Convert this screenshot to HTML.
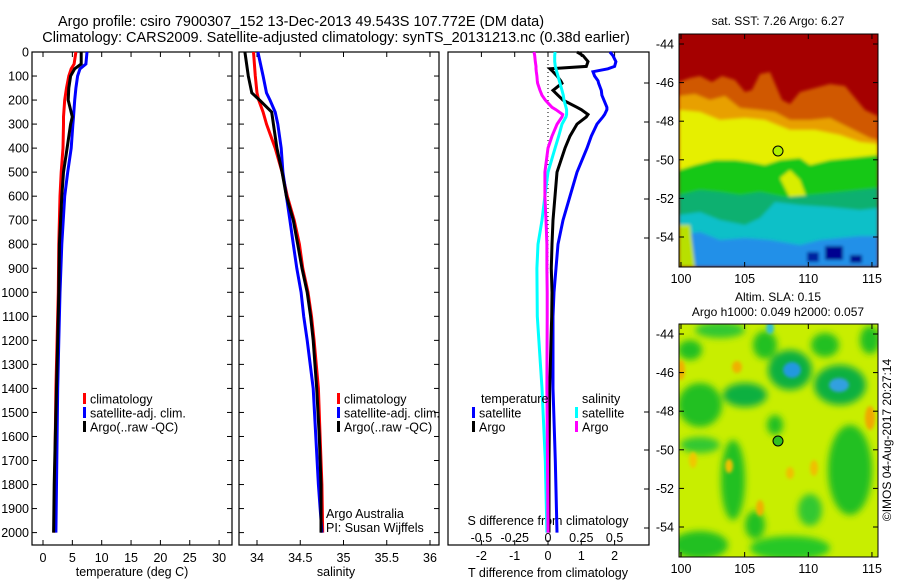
<!DOCTYPE html>
<html><head><meta charset="utf-8"><style>
html,body{margin:0;padding:0;background:#fff;}
svg{display:block;font-family:"Liberation Sans",sans-serif;}
text{fill:#000;}
</style></head><body>
<svg id="fig" width="900" height="580" viewBox="0 0 900 580" xmlns="http://www.w3.org/2000/svg">
<defs>
<clipPath id="cm1"><rect x="679" y="34" width="199" height="233"/></clipPath>
<clipPath id="cm2"><rect x="679" y="324" width="199" height="233"/></clipPath>
<filter id="bl" x="-30%" y="-30%" width="160%" height="160%"><feGaussianBlur stdDeviation="3.5"/></filter>
<filter id="bl2" x="-20%" y="-20%" width="140%" height="140%"><feGaussianBlur stdDeviation="1.5"/></filter>
</defs>
<text x="301" y="26" font-size="14.5" text-anchor="middle">Argo profile: csiro 7900307_152 13-Dec-2013 49.543S 107.772E (DM data)</text>
<text x="336" y="42" font-size="14.5" text-anchor="middle">Climatology: CARS2009. Satellite-adjusted climatology: synTS_20131213.nc (0.38d earlier)</text>

<g id="p1"></g>
<g id="p2"></g>
<g id="p3"></g>

<!-- SST map -->
<g clip-path="url(#cm1)">
<rect x="679" y="34" width="199" height="233" fill="#a50000"/>
<g filter="url(#bl2)">
<path d="M679 82 L690 78 L700 76 L712 82 L722 76 L735 80 L745 92 L752 90 L760 74 L770 72 L782 100 L790 104 L800 92 L815 88 L830 84 L845 86 L855 98 L865 110 L878 116 L878 267 L679 267Z" fill="#d05800"/>
<path d="M679 96 L695 94 L710 100 L725 96 L740 108 L760 110 L775 112 L790 120 L810 120 L830 118 L850 128 L870 138 L878 140 L878 267 L679 267Z" fill="#e8a000"/>
<path d="M679 110 L700 112 L720 120 L745 118 L765 120 L790 130 L815 130 L840 135 L860 142 L878 144 L878 267 L679 267Z" fill="#e6ef00"/>
<path d="M679 170 L695 165 L715 160 L735 160 L750 162 L765 165 L780 160 L800 158 L810 165 L830 160 L850 158 L878 155 L878 267 L679 267Z" fill="#18c818"/>
<path d="M780 178 L790 170 L800 180 L806 196 L790 198 Z" fill="#d8ee00"/>
<path d="M679 195 L700 190 L720 192 L740 195 L760 192 L785 197 L810 195 L840 192 L878 188 L878 267 L679 267Z" fill="#10b070"/>
<path d="M679 215 L700 212 L720 220 L745 225 L760 218 L775 202 L800 205 L830 207 L860 210 L878 208 L878 267 L679 267Z" fill="#10c0c8"/>
<path d="M679 235 L700 232 L720 240 L745 238 L770 240 L800 245 L820 240 L840 238 L860 236 L878 236 L878 267 L679 267Z" fill="#2090e8"/>
<path d="M679 225 L690 225 L695 267 L679 267Z" fill="#b8e000"/>
<rect x="825" y="246" width="18" height="14" fill="#000090"/>
<rect x="807" y="252" width="12" height="10" fill="#0020a0"/>
<rect x="850" y="255" width="12" height="8" fill="#001090"/>
</g>
</g>
<rect x="679" y="34" width="199" height="233" fill="none" stroke="#000" stroke-width="1"/>
<circle cx="778" cy="151" r="5" fill="#b0f000" stroke="#000" stroke-width="1"/>

<!-- SLA map -->
<g clip-path="url(#cm2)">
<rect x="679" y="324" width="199" height="233" fill="#c8ee00"/>
<g filter="url(#bl)">
<ellipse cx="690" cy="350" rx="12" ry="10" fill="#20c020"/>
<ellipse cx="700" cy="405" rx="22" ry="22" fill="#20c020"/>
<ellipse cx="745" cy="395" rx="22" ry="12" fill="#10b040"/>
<ellipse cx="765" cy="345" rx="12" ry="14" fill="#20c020"/>
<ellipse cx="790" cy="370" rx="22" ry="20" fill="#10b040"/>
<ellipse cx="840" cy="385" rx="26" ry="20" fill="#10b040"/>
<ellipse cx="825" cy="345" rx="14" ry="12" fill="#20c020"/>
<ellipse cx="870" cy="340" rx="10" ry="14" fill="#20c020"/>
<ellipse cx="733" cy="480" rx="12" ry="40" fill="#20c020"/>
<ellipse cx="700" cy="445" rx="20" ry="8" fill="#30c830"/>
<ellipse cx="775" cy="425" rx="8" ry="10" fill="#20c020"/>
<ellipse cx="850" cy="470" rx="22" ry="45" fill="#20c020"/>
<ellipse cx="700" cy="545" rx="28" ry="14" fill="#20c020"/>
<ellipse cx="790" cy="548" rx="40" ry="12" fill="#28c828"/>
<ellipse cx="810" cy="510" rx="12" ry="16" fill="#30c830"/>
<ellipse cx="720" cy="330" rx="25" ry="8" fill="#30c830"/>
<ellipse cx="755" cy="525" rx="10" ry="14" fill="#20c020"/>
</g>
<g filter="url(#bl2)">
<ellipse cx="792" cy="370" rx="9" ry="8" fill="#2098e0"/>
<ellipse cx="839" cy="385" rx="10" ry="7" fill="#30a0e0"/>
<ellipse cx="770" cy="328" rx="4" ry="6" fill="#30c0d0"/>
<ellipse cx="681" cy="370" rx="4" ry="10" fill="#f0b000"/>
<ellipse cx="737" cy="367" rx="5" ry="6" fill="#f0b000"/>
<ellipse cx="870" cy="418" rx="5" ry="12" fill="#f0a800"/>
<ellipse cx="729" cy="466" rx="4" ry="7" fill="#f0c000"/>
<ellipse cx="790" cy="473" rx="4" ry="6" fill="#f0c000"/>
<ellipse cx="814" cy="468" rx="4" ry="8" fill="#f0c000"/>
<ellipse cx="760" cy="508" rx="4" ry="8" fill="#f0b000"/>
<ellipse cx="693" cy="460" rx="4" ry="8" fill="#f0c800"/>
</g>
</g>
<rect x="679" y="324" width="199" height="233" fill="none" stroke="#000" stroke-width="1"/>
<circle cx="778" cy="441" r="5" fill="#30c020" stroke="#000" stroke-width="1"/>

<text x="778" y="25" font-size="12" text-anchor="middle">sat. SST: 7.26 Argo: 6.27</text>
<text x="778" y="301" font-size="12" text-anchor="middle">Altim. SLA: 0.15</text>
<text x="778" y="316" font-size="12" text-anchor="middle">Argo h1000: 0.049 h2000: 0.057</text>
<text x="0" y="0" font-size="12" text-anchor="middle" transform="translate(891,440) rotate(-90)">©IMOS 04-Aug-2017 20:27:14</text>
<g id="maps"></g>
</svg>
<script>
// ---- data ----
const tDepth = [0,50,70,100,150,200,270,300,400,500,600,800,1000,1200,1400,1600,1800,2000];
const tClim  = [5.6,5.3,4.8,4.4,4.0,3.7,3.5,3.5,3.4,3.1,2.9,2.7,2.6,2.4,2.2,2.1,2.0,1.9];
const tSat   = [7.5,7.3,6.3,5.9,5.6,5.4,5.2,5.1,4.8,4.2,3.7,3.2,2.9,2.7,2.5,2.4,2.3,2.2];
const tArgo  = [6.5,6.5,5.4,4.7,4.4,4.3,5.0,4.7,4.1,3.5,3.2,2.8,2.7,2.5,2.3,2.1,1.9,1.8];
const sDepth = [0,100,170,200,250,300,400,500,600,700,800,900,1000,1100,1200,1400,1600,1800,2000];
const sClim  = [33.96,33.98,34.0,34.02,34.07,34.11,34.21,34.29,34.35,34.43,34.49,34.53,34.59,34.63,34.66,34.71,34.73,34.75,34.76];
const sSat   = [34.01,34.07,34.11,34.15,34.21,34.24,34.28,34.30,34.34,34.38,34.42,34.46,34.51,34.54,34.58,34.65,34.68,34.71,34.75];
const sArgo  = [33.86,33.90,33.94,34.03,34.17,34.19,34.23,34.29,34.34,34.42,34.47,34.52,34.58,34.62,34.65,34.69,34.72,34.74,34.74];
const dDepth = [0,15,40,60,70,82,100,120,130,160,180,200,230,240,260,270,300,350,400,500,600,700,800,900,1000,1100,1400,1700,2000];
const dTsat  = [1.86,1.95,2.04,2.0,1.8,1.35,1.4,1.5,1.52,1.6,1.62,1.68,1.77,1.77,1.7,1.65,1.47,1.3,1.17,0.87,0.66,0.45,0.30,0.24,0.18,0.15,0.15,0.22,0.27];
const dTargo = [0.87,1.05,1.2,1.15,0.06,0.15,0.27,0.38,0.42,0.15,0.3,0.45,0.87,1.0,1.2,1.15,0.87,0.66,0.51,0.27,0.21,0.15,0.12,0.10,0.12,0.11,0.05,0.03,0.03];
const dSsat  = [0.053,0.05,0.05,0.055,0.06,0.065,0.075,0.085,0.09,0.105,0.115,0.12,0.135,0.14,0.14,0.135,0.105,0.08,0.053,0.0,-0.023,-0.045,-0.075,-0.083,-0.082,-0.08,-0.045,-0.02,-0.008];
const dSargo = [-0.105,-0.1,-0.095,-0.09,-0.09,-0.088,-0.083,-0.08,-0.078,-0.06,-0.045,-0.02,0.03,0.06,0.11,0.105,0.068,0.03,0.0,-0.023,-0.023,-0.015,-0.008,-0.008,-0.006,-0.006,-0.008,-0.004,0.0];
const depthTicks = [0,100,200,300,400,500,600,700,800,900,1000,1100,1200,1300,1400,1500,1600,1700,1800,1900,2000];
const tTicks = [0,5,10,15,20,25,30];
const sTicks = [34,34.5,35,35.5,36];
const sTickLabels = ["34","34.5","35","35.5","36"];
const dTTicks = [-2,-1,0,1,2];
const dSTicks = [-0.5,-0.25,0,0.25,0.5];
const dSTickLabels = ["-0.5","-0.25","0","0.25","0.5"];
const latTicks = [-44,-46,-48,-50,-52,-54];
const lonTicks = [100,105,110,115];

// ---- axes ----
const NS='http://www.w3.org/2000/svg';
const Y = d => 52 + d*0.2403;
const X1 = t => 43 + t*5.87;
const X2 = s => 257 + (s-34)*86.5;
const X3 = t => 548 + t*33.3;
const X3s = s => X3(s*4);
const LON = l => 681 + (l-100)*12.73;
const LAT1 = l => 44 + (-44-l)*19.3;
const LAT2 = l => 334 + (-44-l)*19.3;
function el(tag,attrs,parent,txt){const e=document.createElementNS(NS,tag);for(const k in attrs)e.setAttribute(k,attrs[k]);if(txt!==undefined)e.textContent=txt;parent.appendChild(e);return e;}
function stepPts(xs,ds,fx){let p=[];for(let i=0;i<xs.length;i++){const x=fx(xs[i]).toFixed(1),y=Y(ds[i]).toFixed(1);p.push(x+','+y);}return p.join(' ');}

const p1=document.getElementById('p1'),p2=document.getElementById('p2'),p3=document.getElementById('p3');
function frame(g,x0,x1,name){
  const r=el('rect',{x:x0,y:52,width:x1-x0,height:493,fill:'none',stroke:'#000','stroke-width':1.2},g);
  
  
  depthTicks.forEach(d=>{
    el('line',{x1:x0,x2:x0+5,y1:Y(d),y2:Y(d),stroke:'#000'},g);
    el('line',{x1:x1-5,x2:x1,y1:Y(d),y2:Y(d),stroke:'#000'},g);
  });
}
frame(p1,32,232,'temperature-frame');
frame(p2,239,439,'salinity-frame');
const f3=el('rect',{x:448,y:52,width:201,height:493,fill:'none',stroke:'#000','stroke-width':1.2},p3);


depthTicks.forEach(d=>{
  const t=el('text',{x:29,y:Y(d)+4.5,'font-size':12.5,'text-anchor':'end'},p1,String(d));
  
  
});
tTicks.forEach(v=>{
  el('line',{x1:X1(v),x2:X1(v),y1:52,y2:57,stroke:'#000'},p1);
  el('line',{x1:X1(v),x2:X1(v),y1:540,y2:545,stroke:'#000'},p1);
  const t=el('text',{x:X1(v),y:562,'font-size':12.5,'text-anchor':'middle'},p1,String(v));
  
  
});
sTicks.forEach((v,i)=>{
  el('line',{x1:X2(v),x2:X2(v),y1:52,y2:57,stroke:'#000'},p2);
  el('line',{x1:X2(v),x2:X2(v),y1:540,y2:545,stroke:'#000'},p2);
  const t=el('text',{x:X2(v),y:562,'font-size':12.5,'text-anchor':'middle'},p2,sTickLabels[i]);
  
  
});
dTTicks.forEach(v=>{
  el('line',{x1:X3(v),x2:X3(v),y1:52,y2:57,stroke:'#000'},p3);
  el('line',{x1:X3(v),x2:X3(v),y1:540,y2:545,stroke:'#000'},p3);
  const t=el('text',{x:X3(v),y:560,'font-size':12.5,'text-anchor':'middle'},p3,String(v));
  
  
});
dSTicks.forEach((v,i)=>{
  const t=el('text',{x:X3s(v),y:542,'font-size':12.5,'text-anchor':'middle'},p3,dSTickLabels[i]);
  
  
});
[83,122,160,199,238,412,450,489,528].forEach(y=>el('line',{x1:644,x2:649,y1:y,y2:y,stroke:'#000'},p3));
[[p1,132,576,'temperature (deg C)','temperature-axis-title'],[p2,336,576,'salinity','salinity-axis-title'],[p3,548,577,'T difference from climatology','t-diff-axis-title'],[p3,548,525,'S difference from climatology','s-diff-axis-title']].forEach(a=>{
  const t=el('text',{x:a[1],y:a[2],'font-size':12.5,'text-anchor':'middle'},a[0],a[3]);
  
  
});
const zl=el('line',{x1:X3(0),x2:X3(0),y1:52,y2:290,stroke:'#000','stroke-dasharray':'1,3','stroke-width':1},p3);


function series(g,xs,ds,fx,col,name){
  const l=el('polyline',{points:stepPts(xs,ds,fx),fill:'none',stroke:col,'stroke-width':3,'stroke-linejoin':'miter'},g);
  
  
}
series(p1,tClim,tDepth,X1,'#ff0000','temperature-climatology-line');
series(p1,tSat,tDepth,X1,'#0000ff','temperature-satellite-line');
series(p1,tArgo,tDepth,X1,'#000000','temperature-argo-line');
series(p2,sClim,sDepth,X2,'#ff0000','salinity-climatology-line');
series(p2,sSat,sDepth,X2,'#0000ff','salinity-satellite-line');
series(p2,sArgo,sDepth,X2,'#000000','salinity-argo-line');
series(p3,dTsat,dDepth,X3,'#0000ff','t-diff-satellite-line');
series(p3,dTargo,dDepth,X3,'#000000','t-diff-argo-line');
series(p3,dSsat,dDepth,X3s,'#00ffff','s-diff-satellite-line');
series(p3,dSargo,dDepth,X3s,'#ff00ff','s-diff-argo-line');
function legend(g,x,y,col,label,name){
  el('rect',{x:x,y:y-6,width:3,height:11,fill:col},g);
  const t=el('text',{x:x+7,y:y+4.5,'font-size':12.5},g,label);
  
  
}
legend(p1,83,399,'#ff0000','climatology','legend-climatology');
legend(p1,83,413,'#0000ff','satellite-adj. clim.','legend-satellite');
legend(p1,83,427,'#000000','Argo(..raw -QC)','legend-argo');
legend(p2,337,399,'#ff0000','climatology','legend-climatology');
legend(p2,337,413,'#0000ff','satellite-adj. clim.','legend-satellite');
legend(p2,337,427,'#000000','Argo(..raw -QC)','legend-argo');
let th=el('text',{x:481,y:403,'font-size':12.5},p3,'temperature');


let sh=el('text',{x:582,y:403,'font-size':12.5},p3,'salinity');


legend(p3,472,413,'#0000ff','satellite','legend-t-satellite');
legend(p3,472,427,'#000000','Argo','legend-t-argo');
legend(p3,575,413,'#00ffff','satellite','legend-s-satellite');
legend(p3,575,427,'#ff00ff','Argo','legend-s-argo');
let a1=el('text',{x:326,y:518,'font-size':12.5},p2,'Argo Australia');


let a2=el('text',{x:326,y:532,'font-size':12.5},p2,'PI: Susan Wijffels');


const mg=document.getElementById('maps');
[[LAT1,34,267],[LAT2,324,557]].forEach(m=>{
  latTicks.forEach(v=>{
    const y=m[0](v);
    el('line',{x1:679,x2:684,y1:y,y2:y,stroke:'#000'},mg);
    el('line',{x1:873,x2:878,y1:y,y2:y,stroke:'#000'},mg);
    const t=el('text',{x:674,y:y+4.5,'font-size':12.5,'text-anchor':'end'},mg,String(v));
    
    
  });
  lonTicks.forEach(v=>{
    const x=LON(v);
    el('line',{x1:x,x2:x,y1:m[1],y2:m[1]+5,stroke:'#000'},mg);
    el('line',{x1:x,x2:x,y1:m[2]-5,y2:m[2],stroke:'#000'},mg);
    const t=el('text',{x:x,y:m[2]+16,'font-size':12.5,'text-anchor':'middle'},mg,String(v));
    
    
  });
});
</script>
</body></html>
